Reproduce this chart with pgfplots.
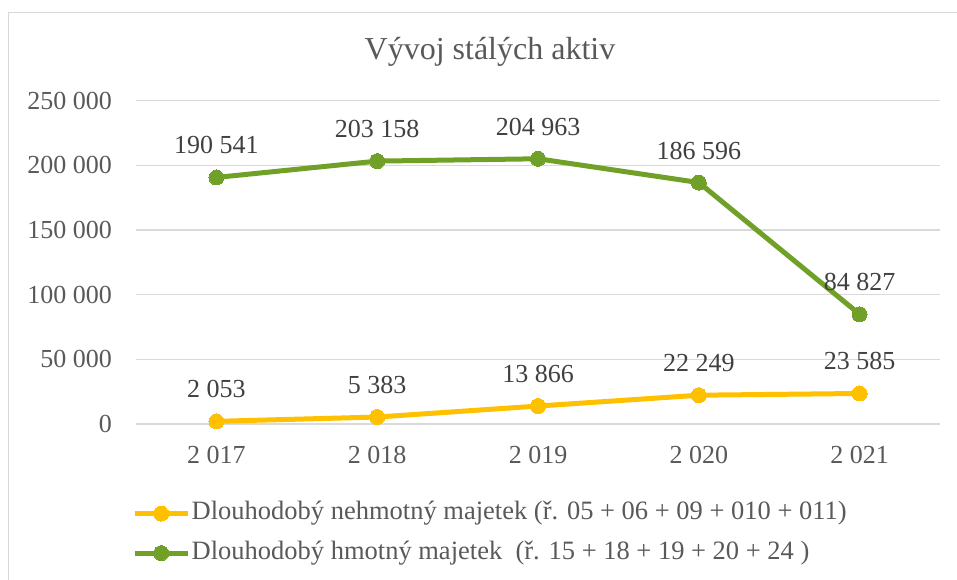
\documentclass[border=0pt]{standalone}
\usepackage{pgfplots}
\pgfplotsset{compat=1.18}
\usepackage{fontspec}
\setmainfont{Liberation Serif}
\definecolor{cyel}{HTML}{FFC000}
\definecolor{cgrn}{RGB}{112,160,40}
\definecolor{cgrid}{HTML}{D9D9D9}
\definecolor{ctick}{HTML}{595959}
\definecolor{clab}{HTML}{404040}
\begin{document}
\begin{tikzpicture}
\useasboundingbox (0bp,0bp) rectangle (957bp,580bp);
\draw[cgrid, line width=1.5bp] (8.5bp,0bp) -- (8.5bp,567.5bp) -- (957bp,567.5bp);
\node[text=ctick, font=\fontsize{32bp}{38bp}\selectfont] at (490bp,528bp) {Vývoj stálých aktiv};
\begin{axis}[
  at={(136bp,156bp)}, anchor=south west,
  scale only axis, width=804bp, height=323.5bp,
  xmin=2016.5, xmax=2021.5, ymin=0, ymax=250000,
  xtick={2017,2018,2019,2020,2021}, ytick={0,50000,100000,150000,200000,250000},
  scaled ticks=false,
  axis line style={draw=none},
  major tick length=0pt,
  ymajorgrids, grid style={cgrid, line width=1.3bp},
  clip=false,
  /pgf/number format/fixed,
  /pgf/number format/precision=0,
  /pgf/number format/1000 sep={\ },
  /pgf/number format/assume math mode=true,
  tick label style={font=\fontsize{26bp}{30bp}\selectfont, text=ctick, inner sep=0pt},
  yticklabel style={anchor=east, xshift=-24bp},
  xticklabel style={anchor=north, yshift=-22bp},
  nodes near coords,
  every node near coord/.append style={font=\fontsize{26bp}{30bp}\selectfont, text=clab, anchor=center, inner sep=0pt, yshift=32bp},
  legend image code/.code={\draw[mark repeat=2,mark phase=2] plot coordinates {(0bp,0bp) (26.5bp,0bp) (53bp,0bp)};},
  legend cell align=left,
  legend style={at={(axis description cs:-0.005,-0.338)}, anchor=west, draw=none, fill=none, inner sep=0pt,
    font=\fontsize{26.5bp}{30bp}\selectfont, text=ctick, row sep=15.5bp,
    nodes={inner sep=0pt, inner xsep=1.5bp, text height=18bp, text depth=6bp}},
]
\addplot[cyel, line width=5bp, mark=*, mark size=7.5bp, mark options={solid, fill=cyel, draw=cyel, line width=0pt}]
  coordinates {(2017,2053) (2018,5383) (2019,13866) (2020,22249) (2021,23585)};
\addlegendentry{Dlouhodobý nehmotný majetek (ř. 05 + 06 + 09 + 010 + 011)}
\addplot[cgrn, line width=5bp, mark=*, mark size=7.5bp, mark options={solid, fill=cgrn, draw=cgrn, line width=0pt}]
  coordinates {(2017,190541) (2018,203158) (2019,204963) (2020,186596) (2021,84827)};
\addlegendentry{Dlouhodobý hmotný majetek\ \ (ř. 15 + 18 + 19 + 20 + 24 )}
\end{axis}
\end{tikzpicture}
\end{document}
